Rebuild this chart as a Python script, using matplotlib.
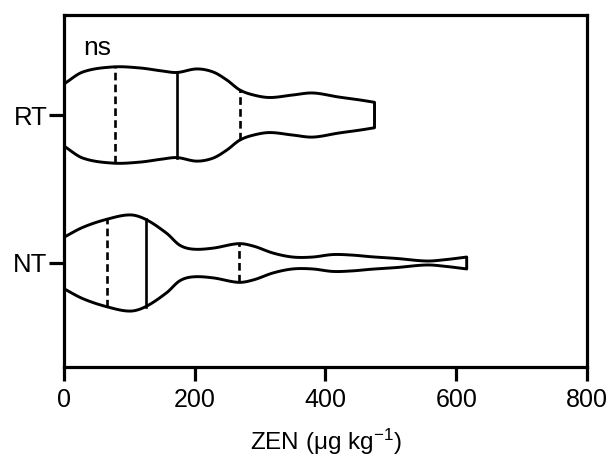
import numpy as np
import matplotlib
matplotlib.use("Agg")
import matplotlib.pyplot as plt

plt.rcParams['font.family'] = ['Liberation Sans', 'DejaVu Sans']
plt.rcParams['mathtext.fontset'] = 'custom'
plt.rcParams['mathtext.rm'] = 'Liberation Sans'
plt.rcParams['mathtext.it'] = 'Liberation Sans:italic'

# ---- data ----
categories = ['NT', 'RT']
# violin outline: ZEN value and relative half-width of the density
RT_x = [0, 29, 75, 116, 150, 173, 203, 228, 249, 269, 290, 315, 350, 381, 420, 453, 475]
RT_w = [31, 43, 48, 47, 44, 42.5, 46, 43, 35, 25, 20, 17.5, 20, 22, 18, 15, 12.7]
NT_x = [0, 29, 65, 101, 125, 157, 177, 197, 228, 267, 290, 320, 350, 380, 411, 440, 470, 510, 555, 585, 616]
NT_w = [26, 36, 44, 48.5, 44, 30, 18, 14, 15, 19.5, 17, 10, 6, 6, 8.5, 8, 6.3, 4.5, 2, 3.5, 6]
RT_quart = [78, 173, 269]   # Q1, median, Q3
NT_quart = [66, 125, 267]
xticks = [0, 200, 400, 600, 800]

MAX_HALF = 0.325


def hermite(x, y, n=500):
    x = np.asarray(x, float)
    y = np.asarray(y, float)
    m = np.zeros_like(y)
    m[1:-1] = (y[2:] - y[:-2]) / (x[2:] - x[:-2])
    m[0] = (y[1] - y[0]) / (x[1] - x[0])
    m[-1] = (y[-1] - y[-2]) / (x[-1] - x[-2])
    xs = np.linspace(x[0], x[-1], n)
    idx = np.clip(np.searchsorted(x, xs, side='right') - 1, 0, len(x) - 2)
    h = x[idx + 1] - x[idx]
    t = (xs - x[idx]) / h
    h00 = 2 * t**3 - 3 * t**2 + 1
    h10 = t**3 - 2 * t**2 + t
    h01 = -2 * t**3 + 3 * t**2
    h11 = t**3 - t**2
    ys = h00 * y[idx] + h10 * h * m[idx] + h01 * y[idx + 1] + h11 * h * m[idx + 1]
    return xs, ys


fig = plt.figure(figsize=(6.11, 4.59), dpi=100)
ax = fig.add_axes([0.1047, 0.2004, 0.856, 0.7669])

lw = 2.1
for pos, xs_, ws_, q in [(0, NT_x, NT_w, NT_quart), (1, RT_x, RT_w, RT_quart)]:
    xd, wd = hermite(xs_, ws_)
    wd = wd / np.max(ws_) * MAX_HALF
    px = np.concatenate([xd, xd[::-1]])
    py = np.concatenate([pos + wd, (pos - wd)[::-1]])
    ax.fill(px, py, facecolor='white', edgecolor='black', lw=lw,
            joinstyle='round', zorder=2)
    for k, qv in enumerate(q):
        hw = np.interp(qv, xd, wd)
        ls = '-' if k == 1 else (0, (2.9, 1.6))
        ax.plot([qv, qv], [pos - hw, pos + hw], color='black', lw=1.9,
                ls=ls, zorder=3)

ax.set_xlim(0, 800)
ax.set_ylim(-0.703, 1.676)
ax.set_xticks(xticks)
ax.set_xticklabels([str(t) for t in xticks])
ax.set_yticks([0, 1])
ax.set_yticklabels(categories)

for s in ax.spines.values():
    s.set_linewidth(2.3)
ax.tick_params(axis='x', direction='out', length=10, width=2.3, pad=5,
               labelsize=18)
ax.tick_params(axis='y', direction='out', length=10.5, width=2.3, pad=1.5,
               labelsize=18.5)

ax.set_xlabel('ZEN ($\\mathregular{\\mu}$g kg$^{\\mathregular{-1}}$)',
              fontsize=17.5, labelpad=11)

ax.text(30, 1.405, 'ns', fontsize=19, ha='left', va='baseline')

fig.savefig('out.png', dpi=100)
